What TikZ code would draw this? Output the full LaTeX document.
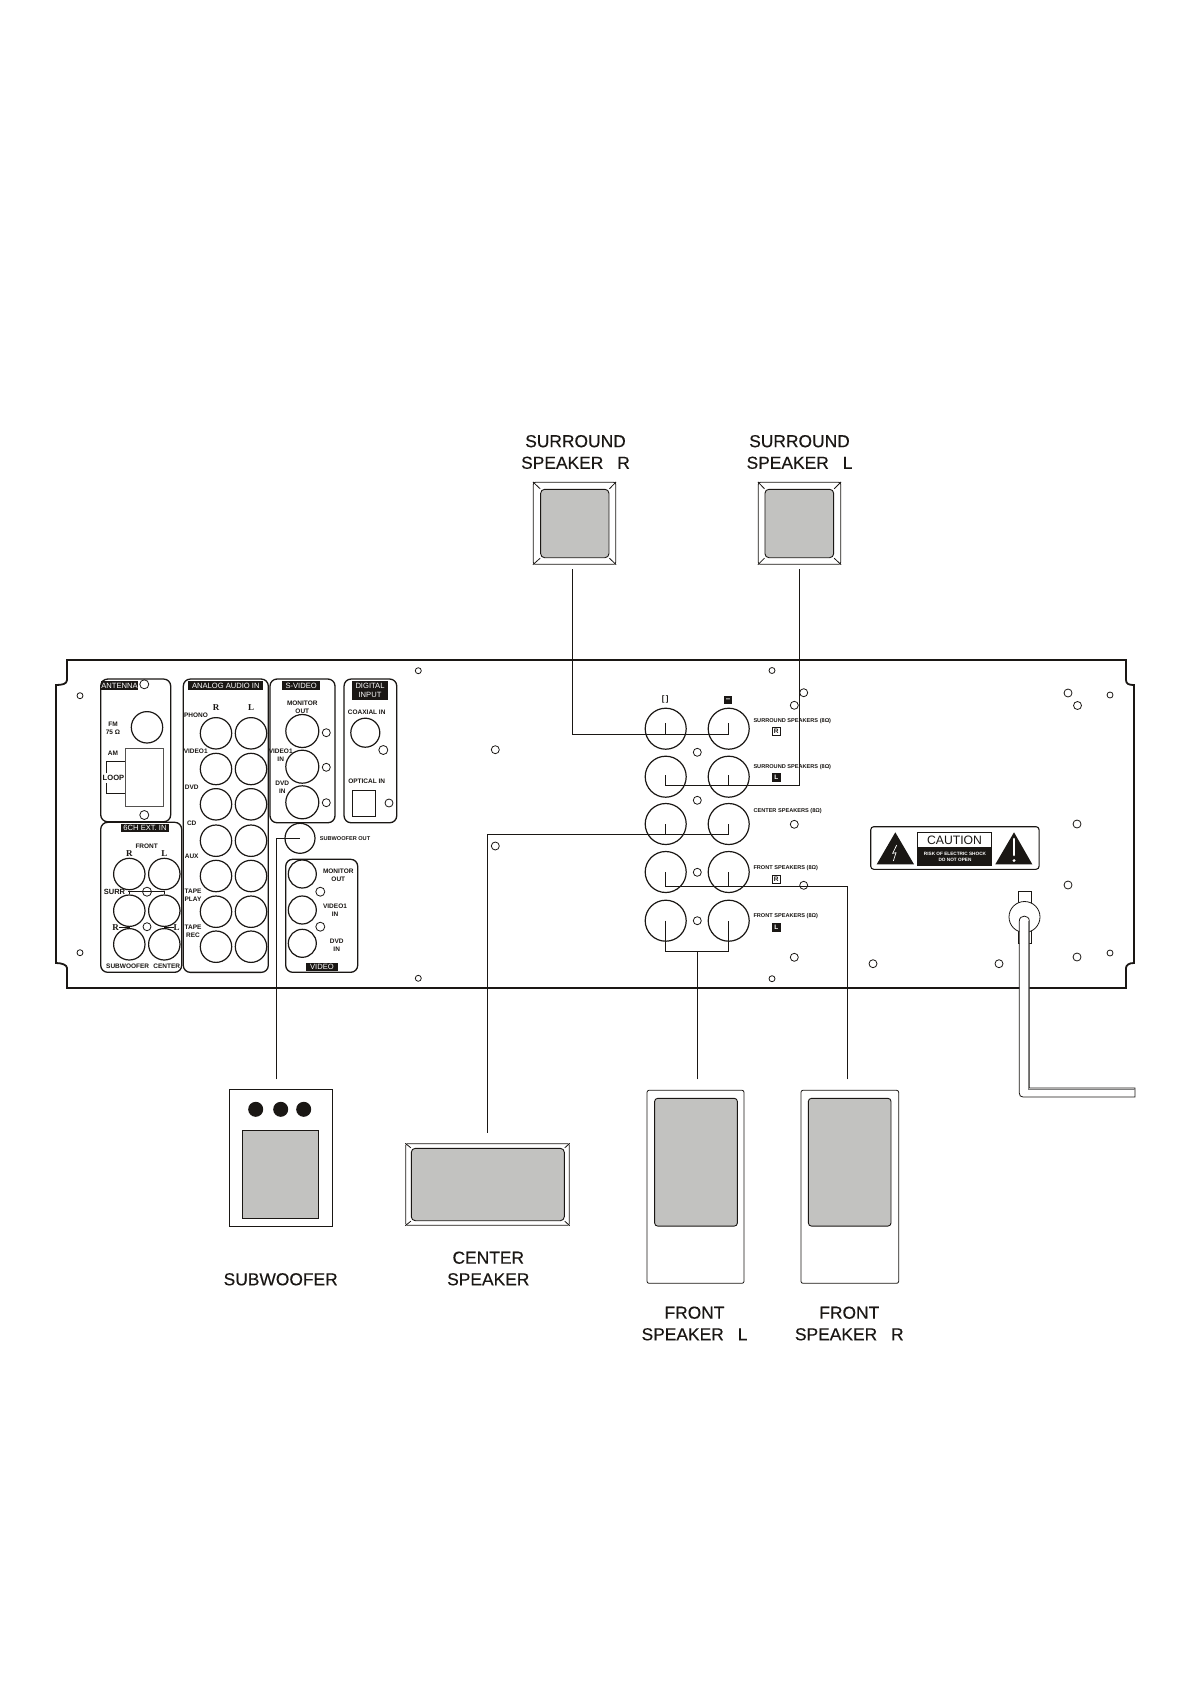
\documentclass[tikz,border=0pt]{standalone}
\usepackage{fontspec}
\setmainfont{Liberation Sans}
\newfontfamily\serfont{Liberation Serif}
\newfontfamily\titlefont[FakeBold=0.3]{Liberation Sans}
\usepackage{tikz}
\definecolor{ink}{HTML}{1A1714}
\definecolor{cone}{HTML}{C2C2C0}
\tikzset{chassis/.style = {draw=ink, line width=1.8pt}}
\tikzset{wire/.style = {draw=ink, line width=0.8pt}}
\tikzset{section/.style = {draw=ink, line width=1.3pt, rounded corners=7pt, inner sep=0pt, fill=white}}
\tikzset{tag/.style = {fill=ink, text=white, inner sep=0pt, align=center, font=\fontsize{7.6}{9.5}\selectfont}}
\tikzset{jack/.style = {draw=ink, circle, line width=1.2pt, inner sep=0pt, minimum size=31.4pt}}
\tikzset{hole/.style = {draw=ink, circle, line width=0.8pt, inner sep=0pt, minimum size=8pt}}
\tikzset{pinhole/.style = {hole, minimum size=6pt}}
\tikzset{legend/.style = {inner sep=0pt, align=center, text=ink, font=\bfseries\fontsize{6.5}{8}\selectfont}}
\tikzset{termlegend/.style = {inner sep=0pt, anchor=west, text=ink, font=\bfseries\fontsize{5.6}{7}\selectfont}}
\tikzset{chan/.style = {inner sep=0pt, text=ink, font=\serfont\bfseries\fontsize{9}{10}\selectfont}}
\tikzset{rtag/.style = {draw=ink, fill=white, text=ink, line width=0.8pt, inner sep=0pt, minimum size=8pt, font=\bfseries\fontsize{6.5}{7}\selectfont}}
\tikzset{ltag/.style = {rtag, fill=ink, text=white}}
\tikzset{spkbox/.style = {draw=ink, line width=0.8pt, inner sep=0pt, rounded corners=2pt, fill=white}}
\tikzset{spkcone/.style = {draw=ink, line width=0.9pt, inner sep=0pt, rounded corners=4pt, fill=cone}}
\tikzset{title/.style = {inner sep=0pt, align=center, text=ink, font=\titlefont\fontsize{17.4}{21.6}\selectfont}}

\begin{document}
\begin{tikzpicture}[x=1pt, y=-1pt]
  \useasboundingbox (0,0) rectangle (1191,1685);

  % back panel
  \draw[chassis] (67,660) -- (1126,660) -- (1126,680) .. controls (1126,684) and (1129,685) .. (1134,685)
    -- (1134,963) .. controls (1129,963) and (1126,965) .. (1126,968) -- (1126,988) -- (67,988) -- (67,968)
    .. controls (67,965) and (62,963) .. (56,963) -- (56,685) .. controls (62,685) and (67,684) .. (67,680) -- cycle;

  % sections
  \node [section, minimum width=70pt, minimum height=142.7pt] (antenna) at (135.7,750.4) {};
  \node [section, minimum width=81pt, minimum height=150pt] (extin) at (141.2,897.3) {};
  \node [section, minimum width=85pt, minimum height=293.3pt] (analog) at (225.8,825.7) {};
  \node [section, minimum width=65pt, minimum height=143.7pt] (svideo) at (302.5,750.9) {};
  \node [section, minimum width=52.7pt, minimum height=143.7pt] (digital) at (370.4,750.9) {};
  \node [section, minimum width=72pt, minimum height=113pt] (video) at (321.7,915.8) {};

  \node [tag, minimum width=37.5pt, minimum height=9.5pt] (antennatag) at (119.5,685.4) {ANTENNA};
  \node [tag, minimum width=48.6pt, minimum height=8pt] (extintag) at (145,828) {6CH EXT. IN};
  \node [tag, minimum width=75pt, minimum height=9.5pt] (analogtag) at (225.8,685.4) {ANALOG AUDIO IN};
  \node [tag, minimum width=37.7pt, minimum height=9.5pt] (svideotag) at (301.2,685.4) {S-VIDEO};
  \node [tag, minimum width=36.6pt, minimum height=19.3pt] (digitaltag) at (370,690.4) {DIGITAL\\INPUT};
  \node [tag, minimum width=32.6pt, minimum height=8.6pt] (videotag) at (322,966.8) {VIDEO};

  % antenna
  \node [hole, minimum size=9pt] (anthole1) at (144.3,684.3) {};
  \node [hole, minimum size=9pt] (anthole2) at (144.3,815) {};
  \node [jack] (fmjack) at (147,727.3) {};
  \node [draw=ink!75, line width=1.2pt, fill=white, inner sep=0pt, minimum width=37.6pt, minimum height=58pt] (amloop) at (144.5,777.7) {};
  \node [legend] (fmlabel) at (113,728) {FM\\75 Ω};
  \node [legend] (amlabel) at (113,753) {AM};
  \node [legend, font=\bfseries\fontsize{7.6}{8}\selectfont] (looplabel) at (113.5,778) {LOOP};
  \coordinate (loopa) at (106.7,773.3);
  \coordinate (loopb) at (106.7,783.3);
  \draw[wire] (loopa) |- (amloop.west |- 0,761.7);
  \draw[wire] (loopb) |- (amloop.west |- 0,793.3);

  % 6ch in
  \node [jack] (extfr) at (129.3,874) {};
  \node [jack] (extfl) at (164.3,874) {};
  \node [jack] (extsr) at (129.3,910.7) {};
  \node [jack] (extsl) at (164.3,910.7) {};
  \node [jack] (extsub) at (129.3,944.3) {};
  \node [jack] (extcen) at (164.3,944.3) {};
  \node [legend] (frontlabel) at (146.7,846.7) {FRONT};
  \node [chan] (extrlabel) at (129.3,854) {R};
  \node [chan] (extllabel) at (164.3,854) {L};
  \node [legend, font=\bfseries\fontsize{7.5}{8}\selectfont] (surrlabel) at (114.5,891.7) {SURR};
  \draw[wire] (extsr.north) |- (128,891.7) -- (164.3,891.7) -- (extsl.north);
  \node [hole, minimum size=9pt] (exthole1) at (147,891.7) {};
  \node [hole] (exthole2) at (147,926.7) {};
  \node [chan] (extr2label) at (115.7,927.3) {R};
  \node [chan] (extl2label) at (176.7,927.3) {L};
  \draw[wire] (extr2label.east) -| (extsub.north);
  \draw[wire] (extl2label.west) -| (extcen.north);
  \node [legend] (sublabel) at (127.7,966.7) {SUBWOOFER};
  \node [legend] (cenlabel) at (166.7,966.7) {CENTER};

  % analog audio in
  \node [chan] (anarlabel) at (216,707.3) {R};
  \node [chan] (analabel) at (251,707.3) {L};
  \node [jack] (phonor) at (216,733.3) {};
  \node [jack] (phonol) at (251,733.3) {};
  \node [jack] (videor) at (216,769) {};
  \node [jack] (videol) at (251,769) {};
  \node [jack] (dvdr) at (216,804.3) {};
  \node [jack] (dvdl) at (251,804.3) {};
  \node [jack] (cdr) at (216,840.7) {};
  \node [jack] (cdl) at (251,840.7) {};
  \node [jack] (auxr) at (216,876) {};
  \node [jack] (auxl) at (251,876) {};
  \node [jack] (playr) at (216,911.7) {};
  \node [jack] (playl) at (251,911.7) {};
  \node [jack] (recr) at (216,946.7) {};
  \node [jack] (recl) at (251,946.7) {};
  \node [legend] (phonolabel) at (196,715.7) {PHONO};
  \node [legend] (video1label) at (195.7,751) {VIDEO1};
  \node [legend] (dvdlabel) at (191.7,787.3) {DVD};
  \node [legend] (cdlabel) at (191.7,823.3) {CD};
  \node [legend] (auxlabel) at (191.7,856.7) {AUX};
  \node [legend] (playlabel) at (193,895.7) {TAPE\\PLAY};
  \node [legend] (reclabel) at (193,931) {TAPE\\REC};

  % s-video
  \node [jack, minimum size=33pt] (svout) at (302.3,731) {};
  \node [jack, minimum size=33pt] (svin1) at (302.3,766.7) {};
  \node [jack, minimum size=33pt] (svin2) at (302.3,802.3) {};
  \node [hole] (svhole1) at (326.3,732.7) {};
  \node [hole] (svhole2) at (326.3,767.3) {};
  \node [hole] (svhole3) at (326.3,802.7) {};
  \node [legend] (svoutlabel) at (302.3,707.3) {MONITOR\\OUT};
  \node [legend] (svin1label) at (280.7,755) {VIDEO1\\IN};
  \node [legend] (svin2label) at (282.3,787.3) {DVD\\IN};

  % digital input
  \node [jack, minimum size=29pt] (coax) at (365.3,732.7) {};
  \node [hole, minimum size=9pt] (dighole1) at (383.3,750) {};
  \node [hole] (dighole2) at (389,803) {};
  \node [draw=ink, line width=1pt, inner sep=0pt, minimum width=23pt, minimum height=26pt] (optical) at (364.2,803) {};
  \node [legend] (coaxlabel) at (366.7,712.3) {COAXIAL IN};
  \node [legend] (opticallabel) at (366.7,781.7) {OPTICAL IN};

  % subwoofer out
  \node [jack, minimum size=30pt] (jsub) at (300,838.3) {};
  \node [legend, font=\bfseries\fontsize{5.6}{7}\selectfont] (jsublabel) at (345,839) {SUBWOOFER OUT};

  % video
  \node [jack, minimum size=28pt] (vidout) at (302.3,874) {};
  \node [jack, minimum size=28pt] (vidin1) at (302.3,910) {};
  \node [jack, minimum size=28pt] (vidin2) at (302.3,943.3) {};
  \node [hole, minimum size=9pt] (vidhole1) at (320.3,891.7) {};
  \node [hole, minimum size=9pt] (vidhole2) at (320.3,926.7) {};
  \node [legend] (vidoutlabel) at (338.3,875) {MONITOR\\OUT};
  \node [legend] (vidin1label) at (335,910) {VIDEO1\\IN};
  \node [legend] (vidin2label) at (336.7,945) {DVD\\IN};

  % panel holes
  \node [pinhole] (pin1) at (80,695.7) {};
  \node [pinhole] (pin2) at (80,952.7) {};
  \node [pinhole] (pin3) at (418.3,670.7) {};
  \node [pinhole] (pin4) at (418.3,978.3) {};
  \node [pinhole] (pin5) at (772,670.5) {};
  \node [pinhole] (pin6) at (772,978.7) {};
  \node [pinhole] (pin7) at (1110,695) {};
  \node [pinhole] (pin8) at (1110,953) {};
  \node [hole] (hole1) at (495.3,749.7) {};
  \node [hole] (hole2) at (495.3,846) {};
  \node [hole] (hole3) at (803.7,692.7) {};
  \node [hole] (hole4) at (794.3,705.3) {};
  \node [hole] (hole5) at (697.3,752.3) {};
  \node [hole] (hole6) at (697.3,800.3) {};
  \node [hole] (hole7) at (794.3,824.3) {};
  \node [hole] (hole8) at (697.3,872.3) {};
  \node [hole] (hole9) at (803.7,885.3) {};
  \node [hole] (hole10) at (697.3,920.7) {};
  \node [hole] (hole11) at (794.3,957.3) {};
  \node [hole] (hole12) at (873,963.7) {};
  \node [hole] (hole13) at (999,963.7) {};
  \node [hole] (hole14) at (1068,693) {};
  \node [hole] (hole15) at (1077.5,705.5) {};
  \node [hole] (hole16) at (1077,824) {};
  \node [hole] (hole17) at (1068,885) {};
  \node [hole] (hole18) at (1077,957) {};

  % speaker terminals
  \node [jack, minimum size=41pt] (jsrp) at (665.7,728.7) {};
  \node [jack, minimum size=41pt] (jsrm) at (728.7,728.7) {};
  \node [jack, minimum size=41pt] (jslp) at (665.7,776.7) {};
  \node [jack, minimum size=41pt] (jslm) at (728.7,776.7) {};
  \node [jack, minimum size=41pt] (jcp) at (665.7,824) {};
  \node [jack, minimum size=41pt] (jcm) at (728.7,824) {};
  \node [jack, minimum size=41pt] (jfrp) at (665.7,872) {};
  \node [jack, minimum size=41pt] (jfrm) at (728.7,872) {};
  \node [jack, minimum size=41pt] (jflp) at (665.7,920.7) {};
  \node [jack, minimum size=41pt] (jflm) at (728.7,920.7) {};
  \node [inner sep=0pt, text=ink, font=\bfseries\fontsize{8}{9}\selectfont] (plusmark) at (665.3,699.3) {[\,]};
  \node [fill=ink, text=white, inner sep=0pt, minimum size=8pt, font=\bfseries\fontsize{8}{9}\selectfont] (minusmark) at (728,700) {--};
  \node [termlegend] (srlabel) at (753.3,720.7) {SURROUND SPEAKERS (8Ω)};
  \node [termlegend] (sllabel) at (753.3,766.7) {SURROUND SPEAKERS (8Ω)};
  \node [termlegend] (clabel) at (753.3,810.7) {CENTER SPEAKERS (8Ω)};
  \node [termlegend] (frlabel) at (753.3,868.3) {FRONT SPEAKERS (8Ω)};
  \node [termlegend] (fllabel) at (753.3,916.3) {FRONT SPEAKERS (8Ω)};
  \node [rtag] (srtag) at (776.3,731.7) {R};
  \node [ltag] (sltag) at (776.3,777.3) {L};
  \node [rtag] (frtag) at (776.3,879) {R};
  \node [ltag] (fltag) at (776.3,927) {L};

  % caution plate
  \node [draw=ink, line width=1.1pt, rounded corners=3pt, inner sep=0pt, minimum width=168.3pt, minimum height=42.6pt] (caution) at (954.9,848) {};
  \fill[ink] (895.3,832.3) -- (914,864.3) -- (876.7,864.3) -- cycle;
  \draw[white, line width=0.7pt] (896.7,845) -- (892.7,853.3) -- (896,852.7) -- (893.3,861);
  \fill[ink] (1014,832.3) -- (1032.3,864.3) -- (995.3,864.3) -- cycle;
  \draw[white, line width=2.6pt, line cap=round] (1014,839) -- (1014,855);
  \fill[white] (1014,860.6) circle (1.6);
  \node [fill=ink, inner sep=0pt, minimum width=74.4pt, minimum height=18pt] (cautionlow) at (954.5,856.7) {};
  \node [draw=ink, line width=1pt, inner sep=0pt, minimum width=74.4pt, minimum height=15.4pt, text=ink, font=\fontsize{12.2}{14}\selectfont] (cautionhead) at (954.5,840) {CAUTION};
  \node [inner sep=0pt, text=white, font=\bfseries\fontsize{4.7}{5}\selectfont] (cautiontext1) at (955,854) {RISK OF ELECTRIC SHOCK};
  \node [inner sep=0pt, text=white, font=\bfseries\fontsize{4.7}{5}\selectfont] (cautiontext2) at (955,860.3) {DO NOT OPEN};

  % speakers
  \node [spkbox, minimum width=82.4pt, minimum height=82pt] (srbox) at (574.5,523.3) {};
  \node [spkcone, minimum width=68.3pt, minimum height=68.4pt] (srcone) at (574.8,523.5) {};
  \node [spkbox, minimum width=82.4pt, minimum height=82pt] (slbox) at (799.5,523.3) {};
  \node [spkcone, minimum width=68.7pt, minimum height=68.4pt] (slcone) at (799.3,523.5) {};
  \node [spkbox, rounded corners=0pt, minimum width=103pt, minimum height=136.7pt] (subbox) at (280.8,1157.6) {};
  \node [spkcone, rounded corners=0pt, minimum width=76pt, minimum height=88pt] (subcone) at (280.3,1174.3) {};
  \node [circle, fill=ink, inner sep=0pt, minimum size=15pt] (subdot1) at (255.7,1109.3) {};
  \node [circle, fill=ink, inner sep=0pt, minimum size=15pt] (subdot2) at (280.7,1109.3) {};
  \node [circle, fill=ink, inner sep=0pt, minimum size=15pt] (subdot3) at (303.7,1109.3) {};
  \node [spkbox, minimum width=163.6pt, minimum height=81.6pt] (cenbox) at (487.5,1184.5) {};
  \node [spkcone, minimum width=153pt, minimum height=72.4pt] (cencone) at (487.8,1184.5) {};
  \node [spkbox, minimum width=97pt, minimum height=193pt] (flbox) at (695.5,1186.8) {};
  \node [spkcone, rounded corners=3pt, minimum width=82.7pt, minimum height=127.7pt] (flcone) at (696,1162.2) {};
  \node [spkbox, minimum width=97.7pt, minimum height=193pt] (frbox) at (849.8,1186.8) {};
  \node [spkcone, rounded corners=3pt, minimum width=82.6pt, minimum height=127.7pt] (frcone) at (849.7,1162.2) {};
  \draw[wire] (srbox.north west) -- (srcone.north west) (srbox.north east) -- (srcone.north east)
    (srbox.south west) -- (srcone.south west) (srbox.south east) -- (srcone.south east);
  \draw[wire] (slbox.north west) -- (slcone.north west) (slbox.north east) -- (slcone.north east)
    (slbox.south west) -- (slcone.south west) (slbox.south east) -- (slcone.south east);
  \draw[wire] (cenbox.north west) -- (cencone.north west) (cenbox.north east) -- (cencone.north east)
    (cenbox.south west) -- (cencone.south west) (cenbox.south east) -- (cencone.south east);

  \node [title] (srtitle) at (575.5,452) {SURROUND\\SPEAKER\hspace{.8em}R};
  \node [title] (sltitle) at (799.5,452) {SURROUND\\SPEAKER\hspace{.8em}L};
  \node [title] (subtitle) at (280.7,1279.3) {SUBWOOFER};
  \node [title] (centitle) at (488.3,1268.5) {CENTER\\SPEAKER};
  \node [title] (fltitle) at (694.5,1323.5) {FRONT\\SPEAKER\hspace{.8em}L};
  \node [title] (frtitle) at (849.3,1323.5) {FRONT\\SPEAKER\hspace{.8em}R};

  % wiring
  \coordinate (srend) at (572.7,569);
  \coordinate (slend) at (799,569);
  \coordinate (cend) at (487.3,1132.7);
  \coordinate (frend) at (847.3,1079.3);
  \coordinate (flend) at (697.3,1079.3);
  \coordinate (subend) at (276.7,1079.3);
  \coordinate (fljoin) at (697.3,951.7);
  \draw[wire] (srend) |- ([yshift=-5.6pt]jsrm.center) -- ([yshift=5.7pt]jsrm.center);
  \draw[wire] ([yshift=-5.6pt]jsrp.center) -- ([yshift=5.7pt]jsrp.center);
  \draw[wire] (slend) |- ([yshift=-8.3pt]jslp.center) -- ([yshift=1.7pt]jslp.center);
  \draw[wire] ([yshift=-8.3pt]jslm.center) -- ([yshift=1.7pt]jslm.center);
  \draw[wire] (cend) |- ([yshift=-10.3pt]jcm.center) -- (jcm.center);
  \draw[wire] ([yshift=-10.3pt]jcp.center) -- (jcp.center);
  \draw[wire] (frend) |- ([yshift=-14.3pt]jfrp.center) -- (jfrp.center);
  \draw[wire] ([yshift=-14.3pt]jfrm.center) -- (jfrm.center);
  \draw[wire] (flend) -- (fljoin);
  \draw[wire] (jflp.center) |- (fljoin) -| (jflm.center);
  \draw[wire] (subend) |- (jsub.center);

  % power cord
  \node [draw=ink, line width=0.8pt, inner sep=0pt, minimum width=12.5pt, minimum height=12pt] (cordtop) at (1024.8,897) {};
  \node [draw=ink, line width=0.8pt, inner sep=0pt, minimum width=12.5pt, minimum height=14pt] (cordlow) at (1024.8,936) {};
  \node [draw=ink, circle, line width=0.8pt, fill=white, inner sep=0pt, minimum size=31pt] (cordgland) at (1024.5,917) {};
  \draw[draw=ink, line width=0.8pt, fill=white] (1019.3,921) .. controls (1019.3,914.5) and (1029.3,914.5) .. (1029.3,921)
    -- (1029.3,1088) -- (1135,1088) -- (1135,1097) -- (1023,1097) .. controls (1020.5,1097) and (1019.3,1095.5) .. (1019.3,1093) -- cycle;
  \draw[gray, line width=0.8pt] (1028.2,921) -- (1028.2,1089) -- (1135,1089);
\end{tikzpicture}
\end{document}
